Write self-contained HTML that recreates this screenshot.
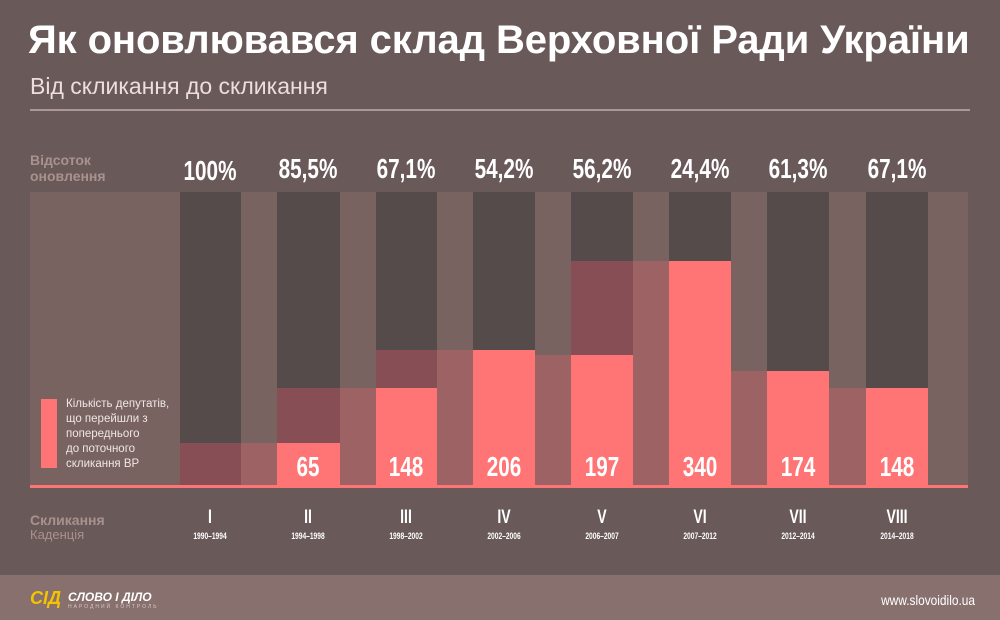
<!DOCTYPE html>
<html><head><meta charset="utf-8"><style>
body{margin:0;width:1000px;height:620px;background:#695a59;font-family:"Liberation Sans",sans-serif;position:relative;overflow:hidden}
.a{position:absolute}
.n{font-family:"Liberation Sans Narrow","Liberation Sans",sans-serif;font-weight:bold;color:#fff;text-align:center;transform:scaleX(0.74);transform-origin:50% 50%}
</style></head><body>
<div class="a" style="left:28px;top:18px;font-size:40px;font-weight:bold;color:#fff;letter-spacing:-0.1px">Як оновлювався склад Верховної Ради України</div>
<div class="a" style="left:30px;top:73px;font-size:23px;color:#eadfdc">Від скликання до скликання</div>
<div class="a" style="left:30px;top:109px;width:940px;height:2px;background:#ab9794"></div>
<div class="a" style="left:30px;top:152px;font-size:14px;font-weight:bold;color:#a9918e;line-height:16px">Відсоток<br>оновлення</div>
<svg class="a" style="left:0;top:0" width="1000" height="620">
<rect x="30" y="192" width="938" height="295" fill="#786361"/>
<g fill="#554b4a">
<rect x="180" y="192" width="61" height="295"/><rect x="277" y="192" width="63" height="295"/>
<rect x="376" y="192" width="61" height="295"/><rect x="473" y="192" width="62" height="295"/>
<rect x="571" y="192" width="62" height="295"/><rect x="669" y="192" width="62" height="295"/>
<rect x="767" y="192" width="62" height="295"/><rect x="866" y="192" width="62" height="295"/>
</g>
<g fill="#874f55">
<rect x="180" y="443" width="61" height="44"/><rect x="277" y="388" width="63" height="55"/>
<rect x="376" y="350" width="61" height="38"/><rect x="571" y="261" width="62" height="94"/>
</g>
<g fill="#9c6264">
<rect x="241" y="443" width="36" height="44"/><rect x="340" y="388" width="36" height="99"/>
<rect x="437" y="350" width="36" height="137"/><rect x="535" y="355" width="36" height="132"/>
<rect x="633" y="261" width="36" height="226"/><rect x="731" y="371" width="36" height="116"/>
<rect x="829" y="388" width="37" height="99"/>
</g>
<g fill="#ff7575">
<rect x="277" y="443" width="63" height="44"/><rect x="376" y="388" width="61" height="99"/>
<rect x="473" y="350" width="62" height="137"/><rect x="571" y="355" width="62" height="132"/>
<rect x="669" y="261" width="62" height="226"/><rect x="767" y="371" width="62" height="116"/>
<rect x="866" y="388" width="62" height="99"/>
<rect x="30" y="485" width="938" height="3"/>
<rect x="41" y="399" width="16" height="69"/>
</g>
</svg>
<div class="a" style="left:66px;top:397px;font-size:11.5px;color:#f0e6e4;line-height:15px">Кількість депутатів,<br>що перейшли з<br>попереднього<br>до поточного<br>скликання ВР</div>
<div class="a n" style="left:160px;top:155px;width:100px;font-size:28px">100%</div>
<div class="a n" style="left:258px;top:153px;width:100px;font-size:28px">85,5%</div>
<div class="a n" style="left:356px;top:153px;width:100px;font-size:28px">67,1%</div>
<div class="a n" style="left:454px;top:153px;width:100px;font-size:28px">54,2%</div>
<div class="a n" style="left:552px;top:153px;width:100px;font-size:28px">56,2%</div>
<div class="a n" style="left:650px;top:153px;width:100px;font-size:28px">24,4%</div>
<div class="a n" style="left:748px;top:153px;width:100px;font-size:28px">61,3%</div>
<div class="a n" style="left:847px;top:153px;width:100px;font-size:28px">67,1%</div>
<div class="a n" style="left:258px;top:451px;width:100px;font-size:28px">65</div>
<div class="a n" style="left:356px;top:451px;width:100px;font-size:28px">148</div>
<div class="a n" style="left:454px;top:451px;width:100px;font-size:28px">206</div>
<div class="a n" style="left:552px;top:451px;width:100px;font-size:28px">197</div>
<div class="a n" style="left:650px;top:451px;width:100px;font-size:28px">340</div>
<div class="a n" style="left:748px;top:451px;width:100px;font-size:28px">174</div>
<div class="a n" style="left:847px;top:451px;width:100px;font-size:28px">148</div>
<div class="a" style="left:30px;top:512px;font-size:14px;font-weight:bold;color:#a9918e">Скликання</div>
<div class="a" style="left:30px;top:527px;font-size:13px;color:#a9918e">Каденція</div>
<div class="a n" style="left:160px;top:507px;width:100px;font-size:19px">I</div>
<div class="a n" style="left:258px;top:507px;width:100px;font-size:19px">II</div>
<div class="a n" style="left:356px;top:507px;width:100px;font-size:19px">III</div>
<div class="a n" style="left:454px;top:507px;width:100px;font-size:19px">IV</div>
<div class="a n" style="left:552px;top:507px;width:100px;font-size:19px">V</div>
<div class="a n" style="left:650px;top:507px;width:100px;font-size:19px">VI</div>
<div class="a n" style="left:748px;top:507px;width:100px;font-size:19px">VII</div>
<div class="a n" style="left:847px;top:507px;width:100px;font-size:19px">VIII</div>
<div class="a n" style="left:160px;top:531px;width:100px;font-size:9px">1990–1994</div>
<div class="a n" style="left:258px;top:531px;width:100px;font-size:9px">1994–1998</div>
<div class="a n" style="left:356px;top:531px;width:100px;font-size:9px">1998–2002</div>
<div class="a n" style="left:454px;top:531px;width:100px;font-size:9px">2002–2006</div>
<div class="a n" style="left:552px;top:531px;width:100px;font-size:9px">2006–2007</div>
<div class="a n" style="left:650px;top:531px;width:100px;font-size:9px">2007–2012</div>
<div class="a n" style="left:748px;top:531px;width:100px;font-size:9px">2012–2014</div>
<div class="a n" style="left:847px;top:531px;width:100px;font-size:9px">2014–2018</div>
<div class="a" style="left:0;top:575px;width:1000px;height:45px;background:#87706e"></div>
<div class="a" style="left:30px;top:588px;font-size:18px;font-weight:bold;color:#f5c400;font-style:italic">СІД</div>
<div class="a" style="left:68px;top:590px;font-size:12px;font-weight:bold;color:#fff;font-style:italic">СЛОВО І ДІЛО</div>
<div class="a" style="left:68px;top:604px;font-size:5px;color:#d8c8c6;letter-spacing:2px">НАРОДНИЙ КОНТРОЛЬ</div>
<div class="a" style="left:840px;top:592px;font-size:14px;color:#fff;width:135px;text-align:right;transform:scaleX(0.85);transform-origin:100% 50%">www.slovoidilo.ua</div>
</body></html>
